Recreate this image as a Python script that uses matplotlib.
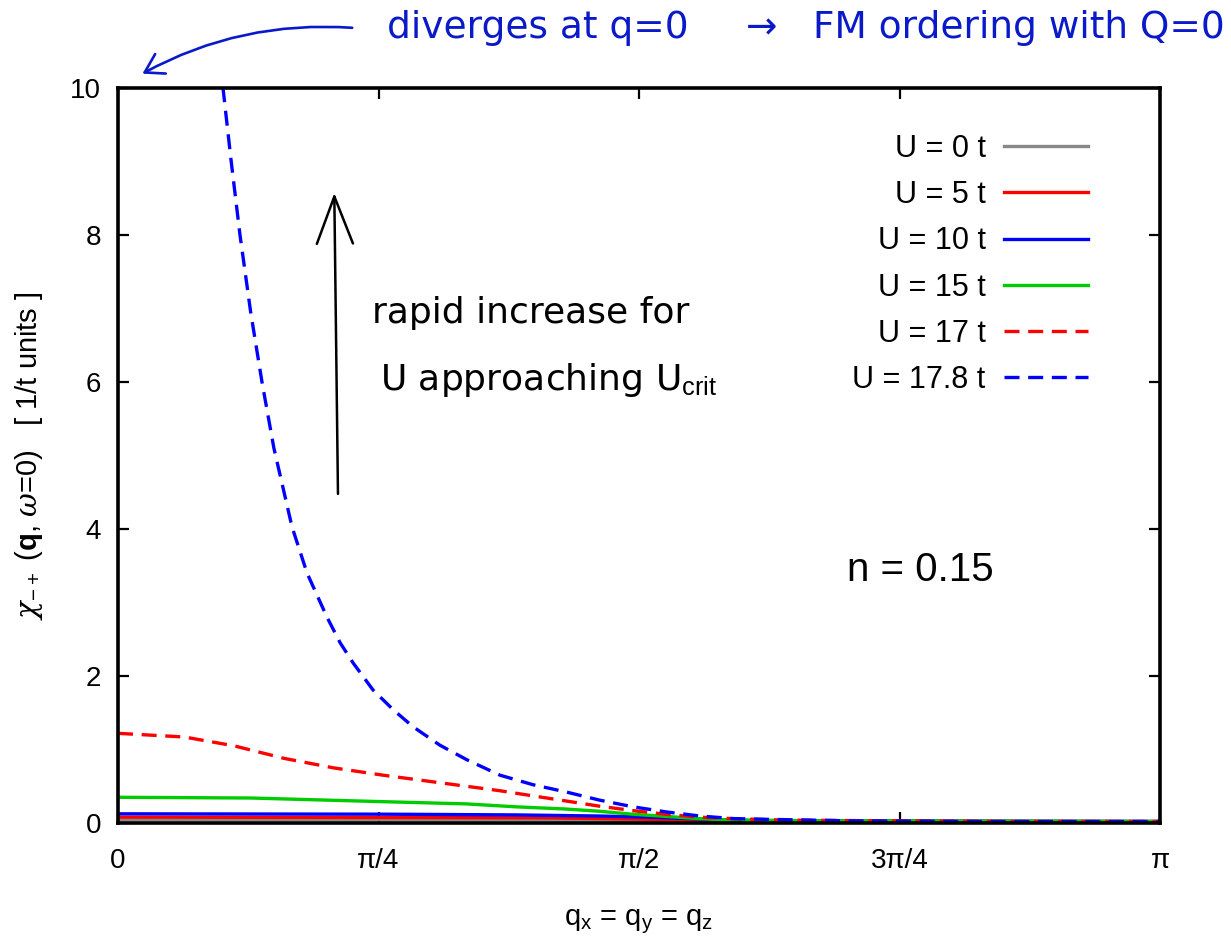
import numpy as np
import matplotlib.pyplot as plt
from matplotlib.patches import FancyArrowPatch

plt.rcParams['font.family'] = ['Liberation Sans', 'DejaVu Sans']
plt.rcParams['mathtext.fontset'] = 'custom'
plt.rcParams['mathtext.rm'] = 'Liberation Sans'
plt.rcParams['mathtext.it'] = 'DejaVu Serif:italic'
plt.rcParams['mathtext.bf'] = 'Liberation Sans:bold'

# chi_{-+}(q, w=0) along the (q,q,q) direction, n = 0.15
q_u0 = [0.0, 0.6, 1.2, 1.6, 2.0, 2.6, 3.1416]
chi_u0 = [0.045, 0.045, 0.043, 0.035, 0.025, 0.02, 0.02]

q_u5 = [0.0, 0.8, 1.3, 1.55, 1.8, 2.2, 3.1416]
chi_u5 = [0.08, 0.075, 0.07, 0.055, 0.035, 0.025, 0.02]

q_u10 = [0.0, 0.8, 1.2, 1.45, 1.6, 1.75, 1.9, 2.2, 3.1416]
chi_u10 = [0.125, 0.12, 0.11, 0.095, 0.08, 0.055, 0.035, 0.025, 0.02]

q_u15 = [0.0, 0.4, 0.8, 1.05, 1.2, 1.35, 1.45, 1.55, 1.65, 1.75, 1.85, 2.1, 3.1416]
chi_u15 = [0.35, 0.34, 0.29, 0.26, 0.22, 0.19, 0.16, 0.12, 0.09, 0.06, 0.04, 0.03, 0.02]

q_u17 = [0.0, 0.2, 0.35, 0.5, 0.65, 0.8, 0.95, 1.15, 1.25, 1.35, 1.45, 1.55,
         1.65, 1.75, 1.85, 2.0, 2.3, 2.7, 3.1416]
chi_u17 = [1.22, 1.17, 1.05, 0.88, 0.75, 0.65, 0.56, 0.44, 0.37, 0.30, 0.23, 0.17,
           0.12, 0.08, 0.06, 0.04, 0.03, 0.02, 0.02]

q_u178 = [0.300, 0.3166, 0.34, 0.3678, 0.40, 0.4341, 0.47, 0.5246, 0.57, 0.6301,
          0.67, 0.7085, 0.7688, 0.83, 0.8894, 0.97, 1.052, 1.152, 1.252, 1.353, 1.453,
          1.553, 1.654, 1.755, 1.855, 1.956, 2.2, 2.6, 3.1416]
chi_u178 = [10.65, 10.0, 9.05, 8.0, 6.95, 6.0, 5.1, 4.03, 3.40, 2.80,
            2.45, 2.18, 1.81, 1.54, 1.31, 1.06, 0.86, 0.65, 0.52, 0.42, 0.31,
            0.22, 0.15, 0.095, 0.06, 0.05, 0.03, 0.02, 0.02]

series = [
    (q_u0, chi_u0, 'U = 0 t', '#888888', '-'),
    (q_u5, chi_u5, 'U = 5 t', '#ff0000', '-'),
    (q_u10, chi_u10, 'U = 10 t', '#0000ff', '-'),
    (q_u15, chi_u15, 'U = 15 t', '#00cc00', '-'),
    (q_u17, chi_u17, 'U = 17 t', '#ff0000', '--'),
    (q_u178, chi_u178, 'U = 17.8 t', '#0000ff', '--'),
]

xticks = [0, np.pi / 4, np.pi / 2, 3 * np.pi / 4, np.pi]
xticklabels = ['0', 'π/4', 'π/2', '3π/4', 'π']
yticks = [0, 2, 4, 6, 8, 10]

W, H = 1231, 938
fig = plt.figure(figsize=(W / 100, H / 100), dpi=100)
ax = fig.add_axes([118 / W, 1 - 823 / H, 1042 / W, 735 / H])

for q, chi, lab, col, ls in series:
    line, = ax.plot(q, chi, color=col, lw=2.4, ls=ls, label=lab)
    if ls == '--':
        line.set_dashes((4.5, 2.6))

ax.set_xlim(0, np.pi)
ax.set_ylim(0, 10)
ax.set_xticks(xticks)
ax.set_xticklabels(xticklabels)
ax.set_yticks(yticks)
ax.tick_params(direction='in', length=8, width=1.6, top=True, right=True,
               labelsize=20, colors='black')
ax.tick_params(axis='y', pad=12)
ax.tick_params(axis='x', pad=18)
for sp in ax.spines.values():
    sp.set_linewidth(2.6)

ax.set_xlabel(r'q$_{\rm x}$ = q$_{\rm y}$ = q$_{\rm z}$', fontsize=21, labelpad=24)
ax.set_ylabel(r'$\chi_{-+}$ ($\mathbf{q}$, $\omega$=0)   [ 1/t units ]',
              fontsize=21, labelpad=18)

leg = ax.legend(loc='upper right', bbox_to_anchor=((1088 - 118) / 1042, (823 - 134) / 735),
                frameon=False, markerfirst=False, fontsize=22, handlelength=2.75,
                handletextpad=0.6, labelspacing=0.53, borderpad=0, borderaxespad=0)

ax.text(2.418, 3.44, 'n = 0.15', fontsize=29, ha='center', va='center')

# handwritten notes
hand = dict(family='DejaVu Sans')
ax.text(0.766, 6.94, 'rapid increase for', fontsize=26, color='black',
        ha='left', va='center', **hand)
ax.text(0.790, 6.03, r'U approaching U$_{\rm crit}$', fontsize=26, color='black',
        ha='left', va='center', **hand)
ax.add_patch(FancyArrowPatch((0.6633, 4.44), (0.652, 8.61), transform=ax.transData,
                             arrowstyle='->,head_length=34,head_width=13',
                             mutation_scale=1, lw=1.8, color='black', clip_on=False))

note_blue = '#0a1ac8'
fig.text(387 / W, 1 - 28 / H, 'diverges at q=0', fontsize=27, color=note_blue,
         ha='left', va='center', **hand)
fig.text(1225 / W, 1 - 28 / H, '→   FM ordering with Q=0', fontsize=27, color=note_blue,
         ha='right', va='center', **hand)
fig.add_artist(FancyArrowPatch((355 / W, 1 - 28 / H), (140 / W, 1 - 75 / H),
                               transform=fig.transFigure,
                               arrowstyle='->,head_length=13,head_width=8',
                               connectionstyle='arc3,rad=0.15', mutation_scale=1,
                               lw=1.9, color=note_blue))

fig.savefig('out.png', dpi=100)
